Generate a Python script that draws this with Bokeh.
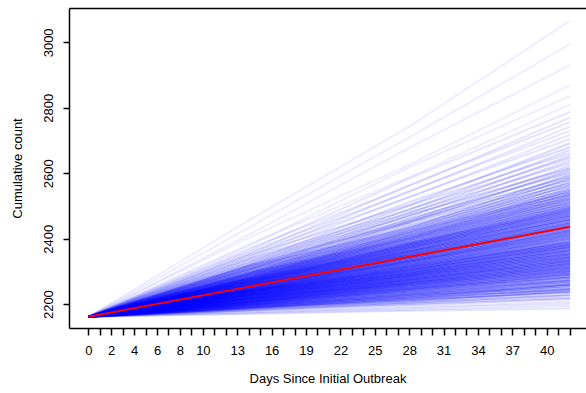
from bokeh.plotting import figure
from bokeh.models import ColumnDataSource, FixedTicker, LinearAxis, Range1d
from bokeh.embed import file_html
from bokeh.resources import INLINE

# ---------------- data ----------------
checkpoint_days = [0, 14, 28, 42]
start_count = 2163

traj_day14 = [
    2172, 2173, 2178, 2176, 2182, 2184, 2183, 2189, 2187, 2190,
    2192, 2188, 2194, 2191, 2197, 2193, 2199, 2196, 2201, 2198, 2203, 2200, 2206, 2202, 2208, 2204, 2209, 2206,
    2211, 2207, 2213, 2209, 2215, 2210, 2217, 2212, 2219, 2214, 2220, 2216, 2222, 2217, 2224, 2219, 2226, 2221,
    2228, 2222, 2229, 2224, 2231, 2226, 2233, 2227, 2235, 2229, 2236, 2230, 2238, 2232, 2240, 2233, 2241, 2235,
    2243, 2237, 2244, 2238,
    2246, 2240, 2248, 2241, 2250, 2243, 2253, 2244, 2255, 2246, 2257, 2248, 2259, 2250, 2261, 2252, 2263, 2254,
    2265, 2255, 2268, 2257, 2270, 2259, 2272, 2261, 2274, 2263, 2276, 2265, 2278, 2267, 2280, 2269, 2282,
    2271, 2285, 2273, 2288, 2275, 2291, 2278, 2294, 2280, 2297, 2283, 2300, 2286, 2304, 2289, 2308, 2292, 2311,
    2295, 2315, 2298, 2318,
    2305, 2320, 2308, 2324, 2313, 2330, 2318, 2336, 2323, 2341, 2330, 2350,
    2340, 2355, 2346, 2362, 2355, 2372, 2366,
    2385, 2380, 2405,
    2414, 2436, 2458,
]
traj_day28 = [
    2181, 2184, 2189, 2193, 2199, 2203, 2207, 2206, 2214, 2211,
    2213, 2220, 2218, 2226, 2222, 2230, 2226, 2234, 2232, 2240, 2236, 2245, 2240, 2248, 2245, 2251, 2249, 2255,
    2252, 2259, 2256, 2262, 2260, 2266, 2263, 2269, 2266, 2273, 2268, 2276, 2272, 2279, 2275, 2283, 2278, 2286,
    2281, 2289, 2285, 2292, 2288, 2295, 2291, 2299, 2294, 2302, 2297, 2306, 2300, 2309, 2304, 2313, 2306, 2316,
    2310, 2319, 2313, 2323,
    2317, 2327, 2320, 2332, 2324, 2335, 2328, 2339, 2331, 2343, 2334, 2347, 2338, 2351, 2342, 2355, 2345, 2359,
    2349, 2363, 2352, 2367, 2355, 2372, 2359, 2376, 2362, 2380, 2365, 2384, 2369, 2387, 2372, 2391, 2376,
    2398, 2380, 2404, 2384, 2409, 2388, 2414, 2393, 2420, 2398, 2425, 2403, 2431, 2408, 2437, 2414, 2443, 2420,
    2450, 2427, 2456, 2434,
    2463, 2452, 2474, 2458, 2482, 2470, 2492, 2480, 2503, 2490, 2514, 2505,
    2530, 2528, 2548, 2545, 2566, 2563, 2586,
    2590, 2620, 2628,
    2680, 2712, 2745,
]
traj_day42 = [
    2188, 2196, 2203, 2209, 2217, 2221, 2228, 2230, 2236, 2239,
    2241, 2246, 2248, 2253, 2258, 2261, 2262, 2267, 2271, 2274, 2276, 2281, 2284, 2286, 2291, 2292, 2295, 2298,
    2301, 2303, 2306, 2308, 2311, 2313, 2316, 2318, 2321, 2324, 2325, 2328, 2331, 2333, 2335, 2338, 2340, 2343,
    2345, 2347, 2350, 2353, 2355, 2357, 2360, 2363, 2365, 2367, 2370, 2373, 2375, 2377, 2380, 2383, 2384, 2387,
    2390, 2392, 2394, 2398,
    2401, 2404, 2407, 2410, 2413, 2415, 2419, 2421, 2424, 2427, 2429, 2433, 2436, 2439, 2441, 2444, 2447, 2450,
    2452, 2456, 2459, 2461, 2464, 2468, 2470, 2473, 2476, 2479, 2482, 2485, 2488, 2490, 2493, 2496, 2499,
    2503, 2507, 2511, 2514, 2518, 2523, 2526, 2531, 2535, 2539, 2543, 2548, 2552, 2556, 2561, 2566, 2570, 2575,
    2581, 2586, 2591, 2597,
    2604, 2611, 2617, 2624, 2632, 2640, 2648, 2655, 2663, 2672, 2681, 2693,
    2706, 2719, 2731, 2744, 2758, 2772, 2789,
    2812, 2838, 2871,
    2932, 2996, 3068,
]

mean_days = [0, 14, 28, 42]
mean_counts = [2163, 2255, 2346, 2438]

x_tick_values = list(range(0, 43))
x_tick_labels = [0, 2, 4, 6, 8, 10, 13, 16, 19, 22, 25, 28, 31, 34, 37, 40]
y_tick_values = [2200, 2400, 2600, 2800, 3000]

# ---------------- figure ----------------
FONT = "Liberation Sans"

p = figure(width=586, height=393, output_backend="svg", toolbar_location=None,
           x_range=Range1d(-1.68, 43.43), y_range=Range1d(2127, 3105),
           min_border_left=69, min_border_right=0, min_border_top=8, min_border_bottom=65,
           x_axis_label="Days Since Initial Outbreak", y_axis_label="Cumulative count")
p.outline_line_color = None
p.grid.grid_line_color = None
p.background_fill_color = "white"
p.border_fill_color = "white"


def line_alpha(end_value):
    # transparency style: dense core darker, sparse tails lighter
    if end_value < 2215:
        return 0.10
    if end_value < 2240:
        return 0.18
    if end_value <= 2550:
        return 0.30
    if end_value <= 2620:
        return 0.22
    if end_value <= 2700:
        return 0.15
    if end_value <= 2800:
        return 0.10
    return 0.07


xs, ys, alphas = [], [], []
for a, b, c in zip(traj_day14, traj_day28, traj_day42):
    xs.append(checkpoint_days)
    ys.append([start_count, a, b, c])
    alphas.append(line_alpha(c))

src = ColumnDataSource(dict(xs=xs, ys=ys, alpha=alphas))
p.multi_line("xs", "ys", source=src, line_color="#0000FF", line_alpha="alpha", line_width=2)
p.line(mean_days, mean_counts, line_color="#FF0000", line_width=2)

# axes
for ax in (p.xaxis[0], p.yaxis[0]):
    ax.axis_line_color = "black"
    ax.axis_line_width = 1.5
    ax.major_tick_line_color = "black"
    ax.major_tick_line_width = 1.5
    ax.major_tick_in = 0
    ax.minor_tick_line_color = None
    ax.major_label_text_font = FONT
    ax.major_label_text_font_size = "13px"
    ax.major_label_text_color = "black"
    ax.axis_label_text_font = FONT
    ax.axis_label_text_font_size = "13px"
    ax.axis_label_text_font_style = "normal"
    ax.axis_label_text_color = "black"

xa = p.xaxis[0]
xa.ticker = FixedTicker(ticks=x_tick_values)
xa.major_label_overrides = {t: (str(t) if t in x_tick_labels else "") for t in x_tick_values}
xa.major_tick_out = 7
xa.major_label_standoff = 10
xa.axis_label_standoff = 13

ya = p.yaxis[0]
ya.ticker = FixedTicker(ticks=y_tick_values)
ya.major_label_orientation = "vertical"
ya.major_tick_out = 6
ya.major_label_standoff = 10
ya.axis_label_standoff = 17

top = LinearAxis(ticker=FixedTicker(ticks=[]), axis_line_color="black", axis_line_width=1.5,
                 major_tick_line_color=None, minor_tick_line_color=None,
                 major_label_text_font_size="0px")
p.add_layout(top, "above")

open("out.html", "w").write(file_html(p, INLINE))
